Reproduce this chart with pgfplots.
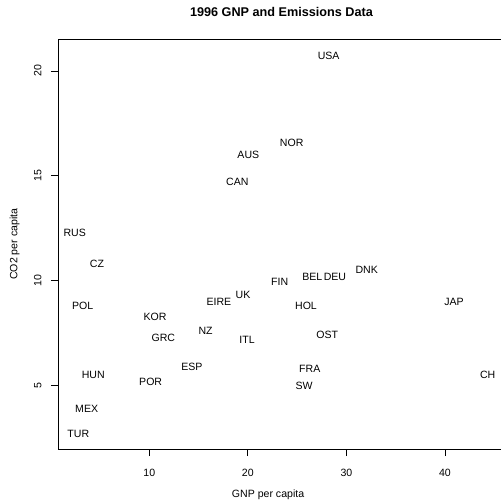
\documentclass[border=0pt]{standalone}
\usepackage{pgfplots}
\pgfplotsset{compat=1.18}
\usepackage{pgfplotstable}
\usepackage{fontspec}
\setmainfont{Liberation Sans}

% GNP and CO2 per capita, 1996
\pgfplotstableread{
x     y      lab
28.20 20.73  USA
24.45 16.55  NOR
20.05 16.00  AUS
18.93 14.72  CAN
2.43  12.29  RUS
4.70  10.80  CZ
23.23 9.97   FIN
26.54 10.18  BEL
28.84 10.18  DEU
32.06 10.50  DNK
19.51 9.32   UK
17.07 8.99   EIRE
25.90 8.78   HOL
3.24  8.79   POL
40.91 9.00   JAP
10.58 8.27   KOR
15.72 7.62   NZ
11.42 7.26   GRC
19.92 7.17   ITL
28.06 7.42   OST
14.33 5.89   ESP
26.28 5.80   FRA
44.33 5.50   CH
4.32  5.50   HUN
10.14 5.16   POR
25.70 4.99   SW
3.65  3.89   MEX
2.80  2.71   TUR
}\gnpdata

\begin{document}
\begin{tikzpicture}
\begin{axis}[
  at={(0,0)}, anchor=south west,
  scale only axis,
  width=447bp, height=409.7bp,
  xmin=0.74, xmax=46.09,
  ymin=1.98, ymax=21.51,
  xtick={10,20,30,40}, ytick={5,10,15,20},
  xtick pos=bottom, ytick pos=left,
  tick align=outside, major tick length=7bp,
  axis line style={line width=0.8bp},
  every tick/.style={black, line width=0.8bp},
  /pgf/number format/assume math mode=true,
  tick label style={font=\fontsize{10.6}{12}\selectfont},
  xticklabel style={yshift=-10bp},
  yticklabel style={xshift=-6bp, rotate=90, anchor=south},
  title={\bfseries 1996 GNP and Emissions Data},
  title style={font=\fontsize{12.7}{14}\selectfont, at={(axis description cs:0.5,1)}, anchor=center, yshift=21bp},
  xlabel={GNP per capita},
  ylabel={CO2 per capita},
  label style={font=\fontsize{10.6}{12}\selectfont},
  xlabel style={at={(axis description cs:0.47,0)}, anchor=center, yshift=-46bp},
  ylabel style={at={(axis description cs:-0.097,0.5)}, anchor=center, rotate=0},
]
\addplot[draw=none, mark=none,
  nodes near coords, point meta=explicit symbolic,
  nodes near coords style={anchor=center, inner sep=0pt, font=\fontsize{10.6}{12}\selectfont}]
  table[x=x, y=y, meta=lab] {\gnpdata};
\end{axis}
\pgfresetboundingbox
\path[use as bounding box] (-58bp,-53bp) rectangle (443bp,449bp);
\end{tikzpicture}
\end{document}
